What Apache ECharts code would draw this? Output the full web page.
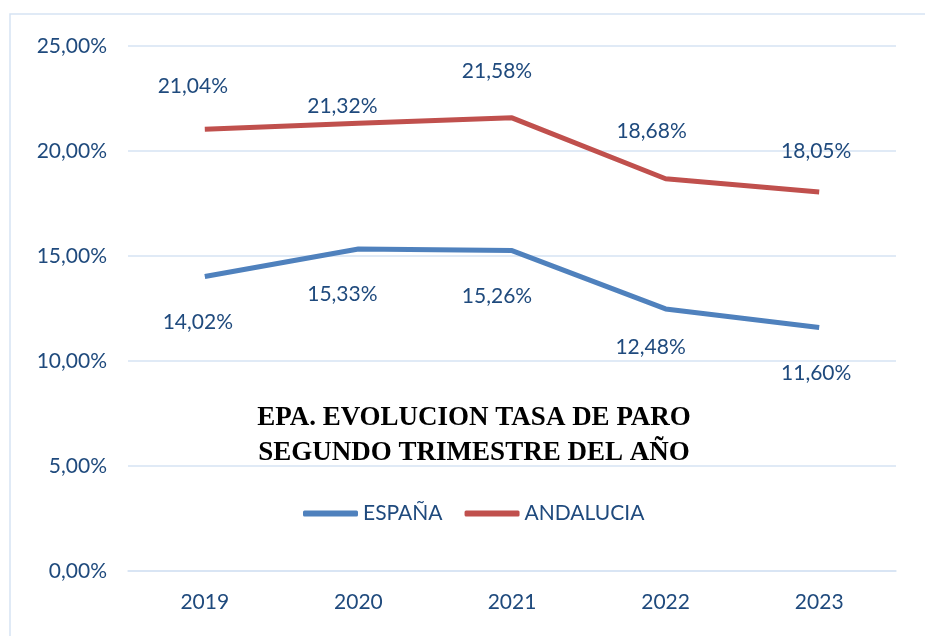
<!DOCTYPE html>
<html>
<head>
<meta charset="utf-8">
<script src="https://cdn.jsdelivr.net/npm/echarts@6/dist/echarts.min.js"></script>
<style>
  html, body { margin: 0; padding: 0; background: #fff; }
  #chart { width: 925px; height: 636px; }
</style>
</head>
<body>
<div id="chart"></div>
<script>
// datos EPA, segundo trimestre
const years = ['2019', '2020', '2021', '2022', '2023']
const espana = [14.02, 15.33, 15.26, 12.48, 11.60]
const andalucia = [21.04, 21.32, 21.58, 18.68, 18.05]
const yTicks = [0, 5, 10, 15, 20, 25]

// desplazamiento manual de las etiquetas (como en el Excel)
const espanaLabelOffset = [[-7, 46], [-16, 45], [-15, 46], [-15, 38], [-3, 46]]
const andaluciaLabelOffset = [[-12, -43], [-16, -17], [-15, -47], [-14, -47], [-3, -41]]

const textColor = '#1f4a7d'
const gridColor = '#d6e3f3'
const fmt = v => v.toFixed(2).replace('.', ',') + '%'

const chart = echarts.init(document.getElementById('chart'))

function makeData(values, offsets) {
  return values.map((v, i) => ({
    value: v,
    label: { offset: offsets[i] }
  }))
}

function lineSeries(name, values, offsets, color) {
  return {
    name: name,
    type: 'line',
    data: makeData(values, offsets),
    color: color,
    lineStyle: { width: 5 },
    symbol: 'circle',
    symbolSize: 0.1,
    showSymbol: true,
    label: {
      show: true,
      position: 'inside',
      color: textColor,
      fontSize: 21,
      formatter: p => fmt(p.value)
    }
  }
}

chart.setOption({
  backgroundColor: '#fff',
  animation: false,
  textStyle: { fontFamily: 'Lato' },
  graphic: [{
    type: 'rect',
    shape: { x: 10, y: 14, width: 930, height: 640 },
    style: { fill: 'none', stroke: gridColor, lineWidth: 1.5 },
    silent: true
  }, {
    type: 'text',
    x: 474,
    y: 401,
    z: 10,
    style: {
      text: 'EPA. EVOLUCION TASA DE PARO\nSEGUNDO TRIMESTRE DEL AÑO',
      fontFamily: 'Liberation Serif',
      fontWeight: 'bold',
      fontSize: 27,
      lineHeight: 35,
      fill: '#000',
      align: 'center'
    }
  }],
  grid: { left: 128, right: 29, top: 46, bottom: 65 },
  legend: {
    top: 498,
    left: 298,
    itemWidth: 55,
    itemHeight: 6,
    itemGap: 22,
    icon: 'roundRect',
    textStyle: { color: textColor, fontSize: 21, fontFamily: 'Lato' },
    data: ['ESPAÑA', 'ANDALUCIA']
  },
  xAxis: {
    type: 'category',
    data: years,
    axisLine: { lineStyle: { color: gridColor, width: 1.5 } },
    axisTick: { length: 7, lineStyle: { color: gridColor, width: 1.5 } },
    axisLabel: { color: textColor, fontSize: 21, margin: 21 }
  },
  yAxis: {
    type: 'value',
    min: yTicks[0],
    max: yTicks[yTicks.length - 1],
    interval: 5,
    axisLine: { show: false },
    axisTick: { show: false },
    splitLine: { lineStyle: { color: gridColor, width: 1.5 } },
    axisLabel: { color: textColor, fontSize: 21, margin: 21, formatter: fmt }
  },
  series: [
    lineSeries('ESPAÑA', espana, espanaLabelOffset, '#4f81bd'),
    lineSeries('ANDALUCIA', andalucia, andaluciaLabelOffset, '#c0504d')
  ]
})
</script>
</body>
</html>
